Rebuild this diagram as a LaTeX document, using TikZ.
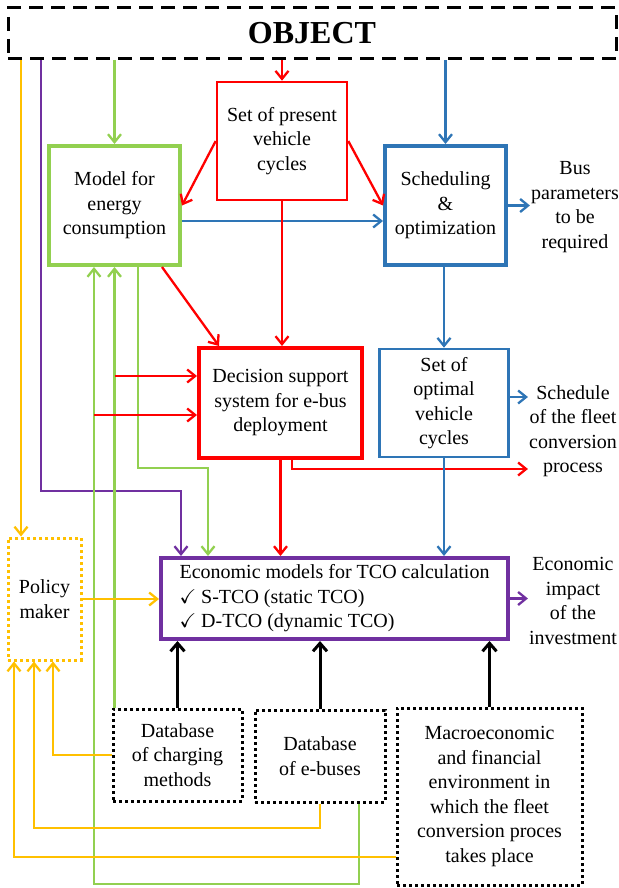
\documentclass[tikz,border=0pt]{standalone}
\usepackage{amssymb}
\usepackage{fontspec}
\setmainfont{Liberation Serif}
\usetikzlibrary{arrows.meta}

\definecolor{cred}{RGB}{255,0,0}
\definecolor{cgreen}{RGB}{146,208,80}
\definecolor{cblue}{RGB}{46,117,182}
\definecolor{cpurple}{RGB}{112,48,160}
\definecolor{cyellow}{RGB}{255,192,0}

\tikzset{
    box/.style={draw, align=center, inner sep=0pt, font=\fontsize{20}{24.5}\selectfont},
    thickbox/.style={box, line width=4pt},
    thinbox/.style={box, line width=2.6pt},
    dotbox/.style={box, line width=3pt, dash pattern=on 3pt off 3pt},
    outtxt/.style={align=center, inner sep=1pt, font=\fontsize{20}{24.5}\selectfont},
    link/.style={line width=2.3pt, -{Straight Barb[length=8pt,width=13pt]}},
    blink/.style={line width=3pt, black, -{Straight Barb[length=8pt,width=14pt]}}
}

\begin{document}
\begin{tikzpicture}[x=1pt, y=-1pt]
        \useasboundingbox (0,0) rectangle (618,888);
        \node[draw, line width=3pt, dash pattern=on 14pt off 8pt, minimum width=608pt, minimum height=51pt, font=\fontsize{32}{36}\selectfont\bfseries] (obj) at (312,33.5) {OBJECT};
        \node[thinbox, cred, text=black, minimum width=130pt, minimum height=118pt] (setpres) at (282,141) {Set of present\\vehicle\\cycles};
        \node[thickbox, cgreen, text=black, minimum width=131pt, minimum height=119pt] (model) at (114.5,205.5) {Model for\\energy\\consumption};
        \node[thickbox, cblue, text=black, minimum width=121pt, minimum height=119pt] (sched) at (445.5,205.5) {Scheduling\\\&\\optimization};
        \node[outtxt] (busp) at (575,207) {Bus\\parameters\\to be\\required};
        \node[thickbox, cred, text=black, minimum width=163pt, minimum height=110pt] (dss) at (280.5,403) {Decision support\\system for e-bus\\deployment};
        \node[thinbox, cblue, text=black, minimum width=129pt, minimum height=108pt] (setopt) at (444,403) {Set of\\optimal\\vehicle\\cycles};
        \node[outtxt] (schedtxt) at (573,431) {Schedule\\of the fleet\\conversion\\process};
        \node[thickbox, cpurple, text=black, align=left, minimum width=347pt, minimum height=81pt] (eco) at (334.5,598.5) {Economic models for TCO calculation\\$\checkmark$ S-TCO (static TCO)\\$\checkmark$ D-TCO (dynamic TCO)};
        \node[outtxt] (ecoimp) at (573,601) {Economic\\impact\\of the\\investment};
        \node[dotbox, cyellow, text=black, minimum width=73pt, minimum height=122pt] (policy) at (44.5,599) {Policy\\maker};
        \node[dotbox, minimum width=129pt, minimum height=92pt] (dbchg) at (177.5,755) {Database\\of charging\\methods};
        \node[dotbox, minimum width=130pt, minimum height=92pt] (dbbus) at (320,756) {Database\\of e-buses};
        \node[dotbox, minimum width=185pt, minimum height=177pt] (macro) at (489.5,796.5) {Macroeconomic\\and financial\\environment in\\which the fleet\\conversion proces\\takes place};

        \draw[link, cred] (obj.south -| setpres.north) -- (setpres.north);
        \draw[link, cgreen] (obj.south -| model.north) -- (model.north);
        \draw[link, cblue] (obj.south -| sched.north) -- (sched.north);
        \draw[link, cyellow] (obj.south -| 21,0) -- (policy.north -| 21,0);
        \draw[link, cpurple] (obj.south -| 41,0) |- (181,491) -- (eco.north -| 181,0);
        \draw[link, cred] (setpres.west) -- (model.east);
        \draw[link, cred] (setpres.east) -- (sched.west);
        \draw[link, cblue] (model.east |- 0,221) -- (sched.west |- 0,221);
        \draw[link, cblue] (sched.east) -- (sched.east -| busp.west);
        \draw[link, cred] (setpres.south) -- (setpres.south |- dss.north);
        \draw[link, cred] (model.south -| 162,0) -- (dss.north -| 219,0);
        \draw[link, cgreen] (dbchg.north -| model.south) -- (model.south);
        \draw[link, cgreen] (dbbus.south -| 359,0) |- (94,884) coordinate (gcorner) -- (model.south -| gcorner);
        \draw[link, cgreen] (model.south -| 138,0) |- (208,468) -- (eco.north -| 208,0);
        \draw[link, cred] (model.south |- 0,376) -- (dss.west |- 0,376);
        \draw[link, cred] (gcorner |- 0,415) -- (dss.west |- 0,415);
        \draw[link, cblue] (setopt.north |- sched.south) -- (setopt.north);
        \draw[link, cblue] (setopt.east |- 0,397) -- (schedtxt.west |- 0,397);
        \draw[link, cred] (dss.south -| 292,0) |- (schedtxt.west |- 0,469);
        \draw[link, cred] (dss.south) -- (dss.south |- eco.north);
        \draw[link, cblue] (setopt.south) -- (setopt.south |- eco.north);
        \draw[link, cpurple] (eco.east) -- (eco.east -| ecoimp.west);
        \draw[link, cyellow] (policy.east) -- (policy.east -| eco.west);
        \draw[blink] (dbchg.north) -- (dbchg.north |- eco.south);
        \draw[blink] (dbbus.north) -- (dbbus.north |- eco.south);
        \draw[blink] (macro.north) -- (macro.north |- eco.south);
        \draw[link, cyellow] (dbchg.west) -| (policy.south -| 53,0);
        \draw[link, cyellow] (dbbus.south) |- (34,828) -- (policy.south -| 34,0);
        \draw[link, cyellow] (macro.west |- 0,857) -| (policy.south -| 14,0);
\end{tikzpicture}
\end{document}
